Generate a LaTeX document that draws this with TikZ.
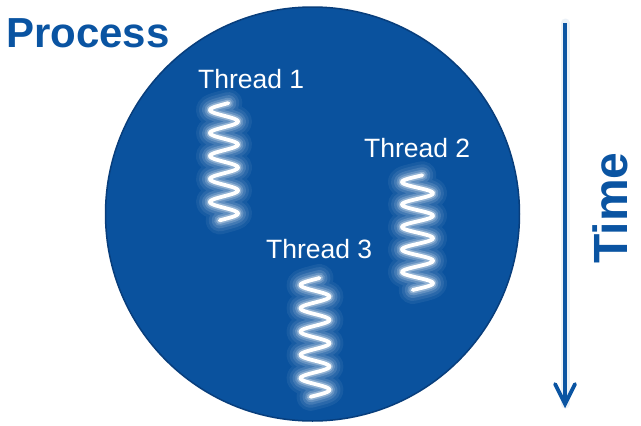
\documentclass[tikz,border=0pt]{standalone}
\usepackage{fontspec}
\setmainfont{Liberation Sans}
\definecolor{procblue}{RGB}{10,84,162}
\definecolor{circfill}{RGB}{10,82,158}
\definecolor{circedge}{RGB}{8,62,124}
\newcommand\threadspring[4]{% cx, A, yL, P
  \foreach \w/\o in {28/0.06,22/0.08,16/0.12,11/0.18,7/0.3}{
    \draw[white, line width=\w pt, opacity=\o, line cap=round, line join=round]
      plot[domain=-0.3:4.8, samples=160, smooth] ({#1-#2*cos(360*\x)},{#3+#4*\x});
  }
  \draw[white, line width=3.8pt, line cap=round, line join=round]
    plot[domain=-0.3:4.8, samples=160, smooth] ({#1-#2*cos(360*\x)},{#3+#4*\x});
}
\tikzset{
  threadlabel/.style={text=white, font=\fontsize{26.5}{30}\selectfont, inner sep=0pt, anchor=base west},
  bigblue/.style={text=procblue, font=\bfseries\fontsize{42}{46}\selectfont, inner sep=0pt, anchor=base west},
}
\begin{document}
\begin{tikzpicture}[x=1pt,y=-1pt]
\useasboundingbox (0,0) rectangle (641,426);
\fill[white] (0,0) rectangle (641,426);
% process circle
\node[circle, minimum size=414pt, inner sep=0pt, fill=circfill, draw=circedge, line width=1.5pt] (proc) at (312.5,214) {};
% springs
\threadspring{224}{14}{110}{23}
\threadspring{417.5}{15.5}{182}{22.5}
\threadspring{315}{14.5}{285}{23.3}
% labels
\node[threadlabel] (t1) at (198,88) {Thread 1};
\node[threadlabel] (t2) at (364,157) {Thread 2};
\node[threadlabel] (t3) at (266,258) {Thread 3};
\node[bigblue] (ptitle) at (6,47) {Process};
% time arrow
\coordinate (tstart) at (565,23);
\coordinate (tend) at (565,404);
\draw[procblue, line width=9pt, opacity=0.08, line cap=round] (tstart) -- (tend);
\draw[procblue, line width=3.8pt] (tstart) -- (tend);
\draw[procblue, line width=3.8pt, line cap=round, line join=miter] (555,384) -- (tend) -- (575,384);
\node[bigblue, font=\bfseries\fontsize{48}{52}\selectfont, rotate=90] (time) at (627,264) {Time};
\end{tikzpicture}
\end{document}
